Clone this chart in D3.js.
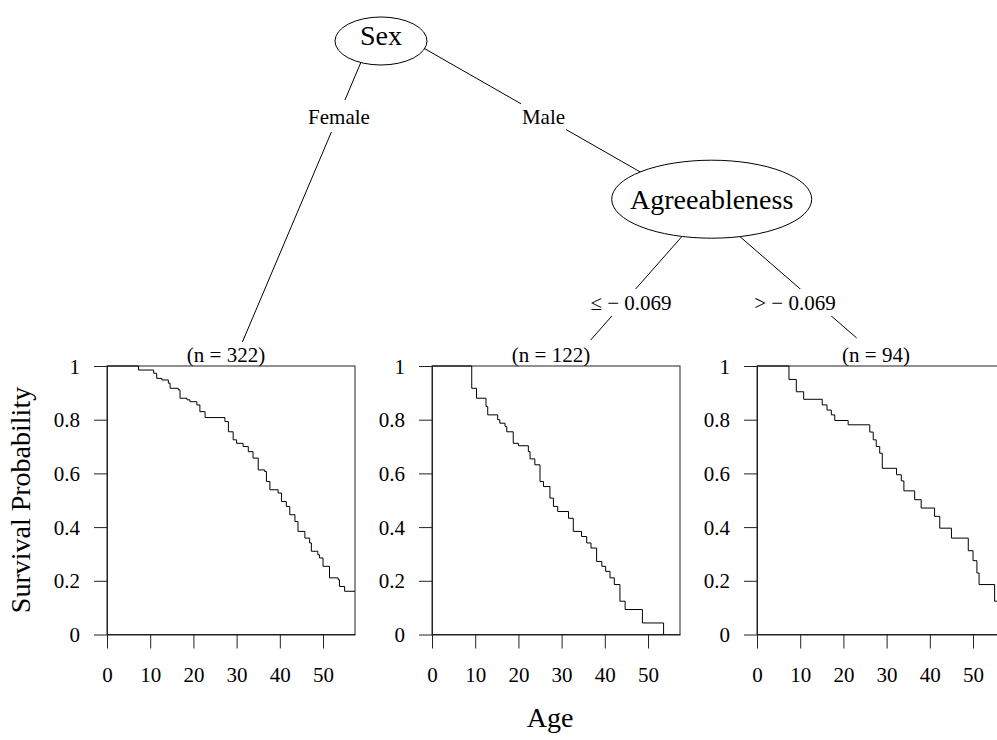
<!DOCTYPE html>
<html>
<head>
<meta charset="utf-8">
<script src="https://cdn.jsdelivr.net/npm/d3@7"></script>
<style>
  html, body { margin: 0; padding: 0; background: #fff; }
  svg { display: block; }
  svg text { font-family: "Liberation Serif", serif; }
</style>
</head>
<body>
<svg id="chart" width="997" height="740" font-family="Liberation Serif"></svg>
<script>
// ---------------- data ----------------
const nodeLabels = ["Sex", "Agreeableness"];
const edgeLabels = ["Female", "Male", "\u2264 \u2212 0.069", "> \u2212 0.069"];
const terminalLabels = ["(n = 322)", "(n = 122)", "(n = 94)"];
const xTicks = [0, 10, 20, 30, 40, 50];
const yTicks = [0, 0.2, 0.4, 0.6, 0.8, 1];
const yTickLabels = ["0", "0.2", "0.4", "0.6", "0.8", "1"];
const xTitle = "Age";
const yTitle = "Survival Probability";

// Kaplan-Meier steps: time of each drop and survival after it
const time1 = [7.3,10.8,11.5,12.7,14.2,14.6,16.5,16.9,18.5,19.2,20.8,21.5,22.7,27.3,28.1,29.2,30.0,31.5,32.7,33.8,35.0,36.5,36.9,37.7,39.6,40.4,41.5,42.3,43.5,44.2,45.8,46.9,47.3,48.8,49.2,50.0,51.5,53.5,53.8,55.0];
const surv1 = [0.985,0.973,0.954,0.948,0.936,0.917,0.911,0.880,0.874,0.867,0.855,0.830,0.808,0.793,0.755,0.725,0.712,0.700,0.681,0.657,0.613,0.607,0.570,0.539,0.527,0.495,0.477,0.446,0.421,0.384,0.359,0.341,0.310,0.297,0.285,0.254,0.211,0.204,0.179,0.161];
const end1 = 57.4;

const time2 = [9.2,10.3,12.5,12.9,15.2,15.7,16.9,17.3,18.8,20.0,22.3,22.7,23.8,25.0,25.8,27.3,28.1,29.1,31.6,32.7,34.6,35.8,36.8,38.1,39.3,40.2,41.2,42.2,43.5,44.7,48.7,53.6];
const surv2 = [0.917,0.880,0.849,0.818,0.800,0.787,0.775,0.755,0.712,0.703,0.681,0.654,0.632,0.570,0.551,0.508,0.477,0.458,0.433,0.384,0.365,0.341,0.322,0.272,0.254,0.235,0.211,0.186,0.124,0.093,0.043,0];
const end2 = 53.6;

const time3 = [7.4,9.1,10.8,15.1,16.2,17.2,18.0,21.1,26.1,26.9,27.6,28.4,29.0,32.3,33.4,34.0,36.5,38.0,41.1,42.3,45.0,48.9,50.0,50.9,51.4,55.0];
const surv3 = [0.950,0.904,0.876,0.855,0.836,0.818,0.797,0.781,0.754,0.725,0.700,0.675,0.619,0.595,0.572,0.535,0.502,0.471,0.440,0.396,0.359,0.312,0.275,0.229,0.186,0.124];
const end3 = 57.0;

const xMax = 57.4;

// ---------------- layout ----------------
const FONT = "Liberation Serif";
const svg = d3.select("#chart");
const panelLefts = [107, 432, 757];
const panelW = 248;
const panelTop = 366, panelBottom = 634.5;
const curves = [
  {time: time1, surv: surv1, end: end1},
  {time: time2, surv: surv2, end: end2},
  {time: time3, surv: surv3, end: end3}
];

// tree edges (drawn first, nodes and labels cover them)
const edges = [
  {x1: 378, y1: 22, x2: 242.4, y2: 342},
  {x1: 378, y1: 22, x2: 712, y2: 213},
  {x1: 707, y1: 208, x2: 590.7, y2: 340},
  {x1: 707, y1: 208, x2: 856.7, y2: 338}
];
svg.selectAll("line.edge").data(edges).enter().append("line")
  .attr("class", "edge")
  .attr("x1", d => d.x1).attr("y1", d => d.y1)
  .attr("x2", d => d.x2).attr("y2", d => d.y2)
  .attr("stroke", "#000").attr("stroke-width", 1);

// edge labels with white background
const edgeLabelPos = [
  {x: 339, y: 124, cy: 116, h: 32, fs: 21},
  {x: 543.5, y: 124, cy: 116.5, h: 28, fs: 21},
  {x: 631, y: 310, cy: 302.5, h: 27, fs: 21},
  {x: 795, y: 310, cy: 302.5, h: 27, fs: 21}
];
edgeLabels.forEach((lab, i) => {
  const p = edgeLabelPos[i];
  const g = svg.append("g");
  const t = g.append("text")
    .attr("x", p.x).attr("y", p.y)
    .attr("text-anchor", "middle")
    .attr("font-family", FONT)
    .attr("font-size", p.fs)
    .text(lab);
  const w = t.node().getComputedTextLength();
  g.insert("rect", "text")
    .attr("x", p.x - w / 2 - 1).attr("y", p.cy - p.h / 2)
    .attr("width", w + 2).attr("height", p.h)
    .attr("fill", "#fff");
});

// inner nodes
const nodes = [
  {cx: 381, cy: 41, rx: 46, ry: 24, ty: 45},
  {cx: 711.7, cy: 199.2, rx: 100, ry: 39, ty: 208.5}
];
nodeLabels.forEach((lab, i) => {
  const n = nodes[i];
  svg.append("ellipse")
    .attr("cx", n.cx).attr("cy", n.cy).attr("rx", n.rx).attr("ry", n.ry)
    .attr("fill", "#fff").attr("stroke", "#000").attr("stroke-width", 1);
  svg.append("text")
    .attr("x", n.cx).attr("y", n.ty)
    .attr("text-anchor", "middle")
    .attr("font-family", FONT)
    .attr("font-size", 28)
    .text(lab);
});

// terminal panels
const lineGen = d3.line().curve(d3.curveStepAfter);
curves.forEach((c, i) => {
  const left = panelLefts[i];
  const x = d3.scaleLinear().domain([0, xMax]).range([left, left + panelW]);
  const y = d3.scaleLinear().domain([0, 1]).range([panelBottom, panelTop]);

  // n label
  svg.append("text")
    .attr("x", left + 119).attr("y", 362)
    .attr("text-anchor", "middle")
    .attr("font-family", FONT)
    .attr("font-size", 21)
    .text(terminalLabels[i]);

  // box
  svg.append("rect")
    .attr("x", x(0)).attr("y", y(1))
    .attr("width", x(xMax) - x(0)).attr("height", y(0) - y(1))
    .attr("fill", "none").attr("stroke", "#222").attr("stroke-width", 1);

  // survival curve
  const pts = [[0, 1]];
  c.time.forEach((t, k) => pts.push([t, c.surv[k]]));
  pts.push([c.end, c.surv[c.surv.length - 1]]);
  svg.append("path")
    .attr("d", lineGen(pts.map(p => [x(p[0]), y(p[1])])))
    .attr("fill", "none").attr("stroke", "#000").attr("stroke-width", 1);

  // axes
  const ax = svg.append("g")
    .attr("transform", `translate(0,${panelBottom})`)
    .call(d3.axisBottom(x).tickValues(xTicks).tickFormat(d3.format("d")).tickSize(14).tickSizeOuter(0));
  ax.attr("font-family", FONT);
  ax.selectAll("text").attr("y", 47).attr("dy", "0").attr("font-size", 21)
    .attr("font-family", FONT).attr("fill", "#000");
  ax.select(".domain").attr("stroke", "#222");
  ax.selectAll(".tick line").attr("stroke", "#222");

  const ay = svg.append("g")
    .attr("transform", `translate(${left},0)`)
    .call(d3.axisLeft(y).tickValues(yTicks).tickFormat((d, k) => yTickLabels[k]).tickSize(13).tickSizeOuter(0));
  ay.attr("font-family", FONT);
  ay.selectAll("text").attr("x", -27).attr("dy", "0.34em").attr("font-size", 21)
    .attr("font-family", FONT).attr("fill", "#000");
  ay.select(".domain").attr("stroke", "#222");
  ay.selectAll(".tick line").attr("stroke", "#222");
});

// axis titles
svg.append("text")
  .attr("x", 550).attr("y", 727)
  .attr("text-anchor", "middle")
  .attr("font-family", FONT)
  .attr("font-size", 28)
  .text(xTitle);
svg.append("text")
  .attr("transform", "translate(30,500) rotate(-90)")
  .attr("text-anchor", "middle")
  .attr("font-family", FONT)
  .attr("font-size", 28)
  .text(yTitle);
</script>
</body>
</html>
